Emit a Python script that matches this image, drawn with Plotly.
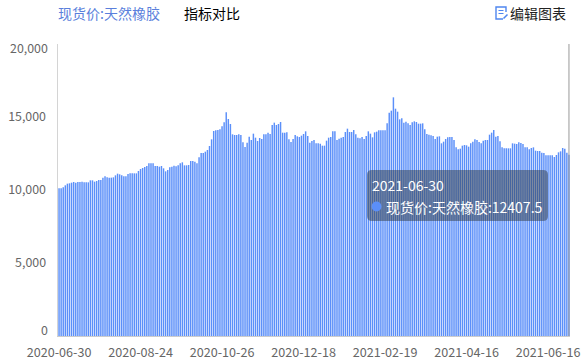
import pandas as pd
import plotly.graph_objects as go

holidays = ["2020-10-01","2020-10-02","2020-10-05","2020-10-06","2020-10-07","2020-10-08",
            "2021-01-01","2021-02-11","2021-02-12","2021-02-15","2021-02-16","2021-02-17",
            "2021-04-05","2021-05-03","2021-05-04","2021-05-05","2021-06-14"]
categories = [d.strftime("%Y-%m-%d") for d in pd.bdate_range("2020-06-30", "2021-06-30")
              if d.strftime("%Y-%m-%d") not in holidays]

values = [
 10114,10114,10183,10320,10434,10457,10502,10548,10502,10548,
 10548,10571,10525,10525,10525,10662,10662,10571,10616,10685,
 10685,10845,10936,10868,10845,10845,10868,11004,11119,11073,
 11004,10936,10936,11096,11141,11141,11141,11141,11301,11438,
 11507,11575,11644,11826,11826,11826,11644,11644,11598,11644,
 11484,11278,11370,11552,11598,11666,11621,11689,11826,11895,
 11689,11689,11712,11986,11986,11940,11826,12237,12534,12534,
 12625,12740,13013,13470,14041,14087,14109,14155,14360,14634,
 15319,14863,14520,13813,13767,13767,13813,13767,13265,12945,
 13242,13653,13425,13858,13584,13356,13561,13493,13813,13813,
 13927,13835,14452,14612,14452,14520,14657,13927,13927,13950,
 13470,13288,13493,13767,13676,13630,13721,13835,14018,13698,
 13242,13356,13425,13196,13196,13173,13036,13036,13379,13584,
 13630,14018,14018,13425,13516,13584,13630,13972,14201,13972,
 13972,14109,13813,13584,13539,13630,13493,13698,14018,13858,
 13607,13950,13995,14087,14087,14087,14087,14566,15296,15434,
 16347,15570,15365,14840,14908,14612,14680,14566,14452,14634,
 14703,14657,14543,14543,14566,14155,13835,13790,13744,13698,
 13493,13653,13676,13196,13310,13493,13607,13630,13630,13425,
 12922,12785,12831,13036,13082,13059,12968,13196,13310,13470,
 13425,13288,13196,13379,13425,13425,13790,13927,14109,13653,
 13698,13333,12922,12854,12854,12854,12854,13196,13173,13150,
 13265,13219,13150,12922,12922,12785,12877,12922,12694,12671,
 12671,12557,12534,12374,12374,12374,12374,12260,12397,12580,
 12648,12877,12831,12557,12407.5,
]

x_ticks = ["2020-06-30","2020-08-24","2020-10-26","2020-12-18","2021-02-19","2021-04-16","2021-06-16"]
y_ticks = [5000, 10000, 15000]
y_edge_ticks = [0, 20000]
series_name = "现货价:天然橡胶"
tip_date = categories[-1]
tip_value = values[-1]

W, H = 586, 362
L, R, T, B = 58, 570, 44, 336
FONT = "Noto Sans CJK SC"
def px(x): return (x - L) / (R - L)
def py(y): return (B - y) / (B - T)

def rrect(x0, y0, x1, y1, r):
    return (f"M{px(x0+r)},{py(y0)} L{px(x1-r)},{py(y0)} Q{px(x1)},{py(y0)} {px(x1)},{py(y0+r)} "
            f"L{px(x1)},{py(y1-r)} Q{px(x1)},{py(y1)} {px(x1-r)},{py(y1)} "
            f"L{px(x0+r)},{py(y1)} Q{px(x0)},{py(y1)} {px(x0)},{py(y1-r)} "
            f"L{px(x0)},{py(y0+r)} Q{px(x0)},{py(y0)} {px(x0+r)},{py(y0)} Z")

fig = go.Figure(go.Bar(x=categories, y=values, marker=dict(color="#5b8ff9", line=dict(width=0)),
                       name=series_name, hoverinfo="skip"))

shapes = [
    dict(type="line", xref="x", yref="paper", x0=categories[-1], x1=categories[-1], y0=0, y1=1,
         line=dict(color="#999999", width=1)),
    dict(type="path", xref="paper", yref="paper", path=rrect(367, 170, 548, 221, 5),
         fillcolor="rgba(50,60,70,0.5)", line=dict(width=0), layer="above"),
    dict(type="circle", xref="paper", yref="paper", x0=px(371.5), x1=px(381.5), y0=py(201.5), y1=py(211.5),
         fillcolor="#5b8ff9", line=dict(width=0), layer="above"),
    # edit icon
    dict(type="path", xref="paper", yref="paper",
         path=f"M{px(506)},{py(12)} L{px(506)},{py(7)} L{px(496)},{py(7)} L{px(496)},{py(19)} L{px(503)},{py(19)}",
         line=dict(color="#4f86ef", width=1.4), layer="above"),
    dict(type="path", xref="paper", yref="paper",
         path=f"M{px(498.5)},{py(10.5)} L{px(503.5)},{py(10.5)} M{px(498.5)},{py(13.5)} L{px(503.5)},{py(13.5)}",
         line=dict(color="#4f86ef", width=1.2), layer="above"),
    dict(type="path", xref="paper", yref="paper",
         path=f"M{px(503.5)},{py(18.5)} L{px(507.5)},{py(14.5)}",
         line=dict(color="#4f86ef", width=1.6), layer="above"),
]

def note(text, x, y, color, size=14, anchor="left"):
    return dict(text=text, xref="paper", yref="paper", x=px(x), y=py(y), xanchor=anchor, yanchor="middle",
                showarrow=False, font=dict(family=FONT, size=size, color=color))

annotations = [
    note(series_name, 56, 13, "#5a7fdc", 14),
    note("指标对比", 182, 13, "#000000"),
    note("编辑图表", 508, 13, "#222222"),
    note(tip_date, 370, 185, "#ffffff"),
    note(f"{series_name}:{tip_value}", 384, 207, "#ffffff"),
]
for v, shift in zip(y_edge_ticks, (6, -4)):
    annotations.append(dict(text=f"{v:,}", xref="paper", yref="y", x=0, y=v, xanchor="right", yanchor="middle",
                            xshift=-8, yshift=shift, showarrow=False,
                            font=dict(family=FONT, size=12.4, color="#666666")))

fig.update_layout(
    width=W, height=H, margin=dict(l=L, r=W - R, t=T, b=H - B, pad=0, autoexpand=False),
    plot_bgcolor="white", paper_bgcolor="white", showlegend=False, bargap=0.3,
    shapes=shapes, annotations=annotations,
    xaxis=dict(type="category", categoryorder="array", categoryarray=categories, range=[-0.5, len(categories) - 0.5],
               tickmode="array", tickvals=x_ticks, ticktext=x_ticks, ticks="", showgrid=False,
               showline=True, linecolor="#cccccc", linewidth=1, automargin=False, ticklabelstandoff=5,
               tickfont=dict(family=FONT, size=12.6, color="#666666")),
    yaxis=dict(range=[0, 20000], tickmode="array", tickvals=y_ticks, ticktext=[f"{v:,}" for v in y_ticks],
               ticks="", showgrid=False, zeroline=False, showline=True, linecolor="#d4d4d4", linewidth=1.5,
               automargin=False, tickfont=dict(family=FONT, size=12.4, color="#666666"), ticklabelstandoff=8),
)
fig.write_html("out.html", config={"staticPlot": True},
               post_script="document.body.style.margin='0';document.body.style.overflow='hidden';")
